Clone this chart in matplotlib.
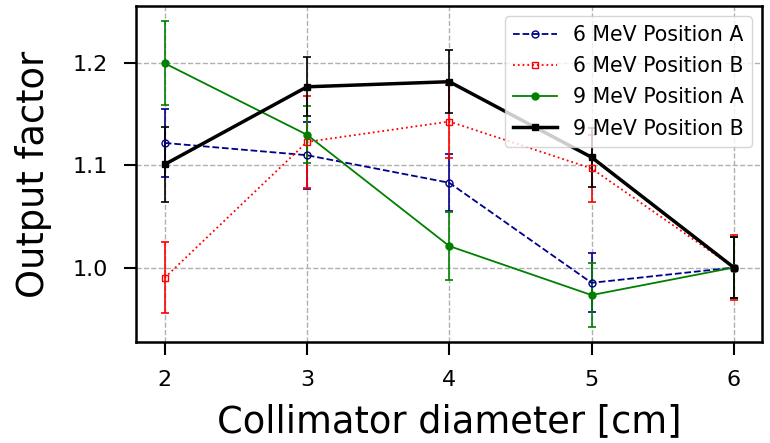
import numpy as np
import matplotlib
matplotlib.use("Agg")
import matplotlib.pyplot as plt

# 准直器直径 (cm)
diameter = [2, 3, 4, 5, 6]

# 输出因子及误差
of_6A = [1.122, 1.110, 1.083, 0.985, 1.000]
err_6A = [0.033, 0.033, 0.028, 0.029, 0.030]
of_6B = [0.990, 1.123, 1.143, 1.097, 1.000]
err_6B = [0.035, 0.045, 0.036, 0.033, 0.032]
of_9A = [1.200, 1.130, 1.021, 0.973, 1.000]
err_9A = [0.041, 0.028, 0.033, 0.031, 0.030]
of_9B = [1.101, 1.177, 1.182, 1.108, 1.000]
err_9B = [0.037, 0.029, 0.031, 0.029, 0.030]

fig, ax = plt.subplots(figsize=(7.7, 4.43), dpi=100)
fig.subplots_adjust(left=0.177, right=0.99, top=0.986, bottom=0.228)

kw = dict(capsize=3, elinewidth=1.2, capthick=1.2)
c1 = ax.errorbar(diameter, of_6A, yerr=err_6A, color='darkblue', ls='--', lw=1.3,
                 marker='o', ms=5, mfc='none', label='6 MeV Position A', **kw)
c2 = ax.errorbar(diameter, of_6B, yerr=err_6B, color='red', ls=':', lw=1.3,
                 marker='s', ms=5, mfc='none', label='6 MeV Position B', **kw)
c3 = ax.errorbar(diameter, of_9A, yerr=err_9A, color='green', ls='-', lw=1.3,
                 marker='o', ms=5, label='9 MeV Position A', **kw)
c4 = ax.errorbar(diameter, of_9B, yerr=err_9B, color='black', ls='-', lw=2.5,
                 marker='s', ms=5, label='9 MeV Position B', **kw)

ax.set_xticks(diameter)
ax.set_yticks([1.0, 1.1, 1.2])
ax.grid(True, ls='--', color='#b0b0b0', lw=1)
ax.tick_params(labelsize=16, length=9, width=1.5, pad=11.5)
for s in ax.spines.values():
    s.set_linewidth(1.8)
ax.set_xlabel('Collimator diameter [cm]', fontsize=26.5, labelpad=9)
ax.set_ylabel('Output factor', fontsize=26.5, labelpad=15)

# 图例只显示线和标记
handles = [c[0] for c in (c1, c2, c3, c4)]
labels = [c.get_label() for c in (c1, c2, c3, c4)]
ax.legend(handles, labels, loc='upper right', fontsize=14.8, handlelength=2.1,
          borderpad=0.4, labelspacing=0.55, handletextpad=0.8)

plt.savefig('out.png')
